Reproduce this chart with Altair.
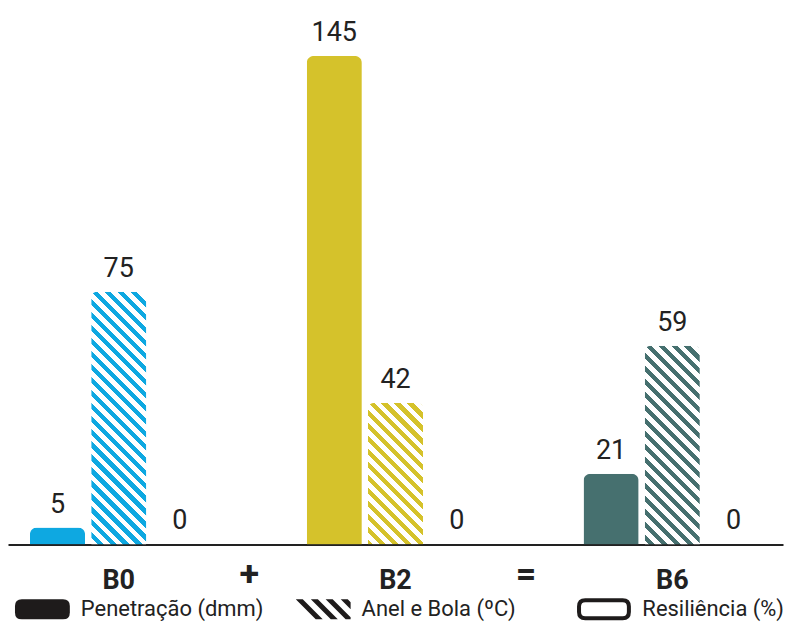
import math
import altair as alt
import pandas as pd

# ---- data ----
groups = ["B0", "B2", "B6"]
series = ["Penetração (dmm)", "Anel e Bola (ºC)", "Resiliência (%)"]
penetracao = [5, 145, 21]
anel_e_bola = [75, 42, 59]
resiliencia = [0, 0, 0]
group_colors = ["#0EA8E1", "#D5C22B", "#46706F"]
operators = ["+", "="]
operator_after = ["B0", "B2"]

# ---- layout ----
W = 777
H = 537
Y_MAX = 159
X_PAD_INNER = 0.3586
X_PAD_OUTER = 0.0793
OFF_PAD_INNER = 0.1
INK = "#222222"

rows = []
for i, g in enumerate(groups):
    for s, vals in zip(series, [penetracao, anel_e_bola, resiliencia]):
        rows.append({"group": g, "series": s, "value": vals[i]})
df = pd.DataFrame(rows)

x_scale = alt.Scale(type="band", domain=groups, paddingInner=X_PAD_INNER, paddingOuter=X_PAD_OUTER)
off_scale = alt.Scale(type="band", domain=series, paddingInner=OFF_PAD_INNER, paddingOuter=0)
y_scale = alt.Scale(domain=[0, Y_MAX], nice=False)
x_axis = alt.Axis(title=None, domainColor=INK, domainWidth=2, ticks=False,
                  labelFontSize=27, labelFontWeight="bold", labelFont="Roboto",
                  labelColor=INK, labelPadding=23, labelAngle=0, grid=False)

X = alt.X("group:N", scale=x_scale, axis=x_axis, title=None)
XO = alt.XOffset("series:N", scale=off_scale)
Y = alt.Y("value:Q", scale=y_scale, axis=None)

# pixel sizes of a bar (used to shape the hatch gradient)
step = W / (len(groups) - X_PAD_INNER + 2 * X_PAD_OUTER)
group_bw = step * (1 - X_PAD_INNER)
bar_w = group_bw / (len(series) - OFF_PAD_INNER) * (1 - OFF_PAD_INNER)
gap_px = step - group_bw


def hatch_gradient(color, w, h, period=13.0, frac=0.48):
    white = "#ffffff"
    span = w + h
    stops = [alt.GradientStop(offset=0, color=white)]
    k = math.floor(-h / period) - 1
    while k * period < w:
        a = k * period
        b = a + frac * period
        ta = min(max((a + h) / span, 0), 1)
        tb = min(max((b + h) / span, 0), 1)
        if tb > ta:
            ta, tb = round(ta, 5), round(tb, 5)
            stops += [alt.GradientStop(offset=ta, color=white),
                      alt.GradientStop(offset=ta, color=color),
                      alt.GradientStop(offset=tb, color=color),
                      alt.GradientStop(offset=tb, color=white)]
        k += 1
    stops.append(alt.GradientStop(offset=1, color=white))
    s = span / (w * w + h * h)
    return alt.LinearGradient(gradient="linear", stops=stops,
                              x1=0, y1=1, x2=round(s * w, 6), y2=round(1 - s * h, 6))


base = alt.Chart(df)

solid = base.transform_filter(
    alt.datum.series != series[1]
).mark_bar(cornerRadiusTopLeft=7, cornerRadiusTopRight=7).encode(
    x=X, xOffset=XO, y=Y,
    color=alt.Color("group:N", scale=alt.Scale(domain=groups, range=group_colors), legend=None),
)

hatched = []
for g, c, v in zip(groups, group_colors, anel_e_bola):
    h_px = v / Y_MAX * H
    hatched.append(
        base.transform_filter(
            (alt.datum.series == series[1]) & (alt.datum.group == g)
        ).mark_bar(cornerRadiusTopLeft=6, cornerRadiusTopRight=6,
                   fill=hatch_gradient(c, bar_w, h_px)).encode(x=X, xOffset=XO, y=Y)
    )

labels = base.mark_text(dy=-15, baseline="alphabetic", fontSize=27, font="Roboto",
                        color=INK).encode(x=X, xOffset=XO, y=Y, text="value:Q")

ops_df = pd.DataFrame({"group": operator_after, "op": operators})
ops = alt.Chart(ops_df).mark_text(fontSize=36, fontWeight="bold", font="Roboto",
                                  baseline="middle", color=INK,
                                  dx=gap_px * 0.42).encode(
    x=alt.X("group:N", scale=x_scale, axis=x_axis, title=None, bandPosition=1),
    y=alt.value(H + 31),
    text="op:N",
)

main = alt.layer(solid, *hatched, labels, ops)

# ---- legend row ----
leg_df = pd.DataFrame({"item": series})
LX = alt.X("item:N", bandPosition=0, axis=None,
           scale=alt.Scale(type="band", domain=series, paddingInner=0.2895, paddingOuter=0.02487))
LEG_Y = H + 65

rounded = ("M-0.75,-0.364 L0.75,-0.364 Q1,-0.364 1,-0.114 L1,0.114 Q1,0.364 0.75,0.364 "
           "L-0.75,0.364 Q-1,0.364 -1,0.114 L-1,-0.114 Q-1,-0.364 -0.75,-0.364 Z")
stripes = ("M-1,-0.364 L-0.745,-0.364 L-0.018,0.364 L-0.273,0.364 Z "
           "M-0.45,-0.364 L-0.195,-0.364 L0.532,0.364 L0.277,0.364 Z "
           "M0.09,-0.364 L0.345,-0.364 L1,0.291 L1,0.364 L0.818,0.364 Z "
           "M0.64,-0.364 L0.895,-0.364 L1,-0.259 L1,-0.004 Z")

leg_base = alt.Chart(leg_df)
sym1 = leg_base.transform_filter(alt.datum.item == series[0]).mark_point(
    shape=rounded, size=55 * 55, filled=True, color="#1e1b1b", opacity=1, xOffset=27.5
).encode(x=LX, y=alt.value(LEG_Y))
sym2 = leg_base.transform_filter(alt.datum.item == series[1]).mark_point(
    shape=stripes, size=55 * 55, filled=True, color="#1e1b1b", opacity=1, xOffset=27.5
).encode(x=LX, y=alt.value(LEG_Y))
sym3 = leg_base.transform_filter(alt.datum.item == series[2]).mark_point(
    shape=rounded, size=50 * 50, filled=False, color="#1e1b1b", strokeWidth=4,
    opacity=1, xOffset=27.5
).encode(x=LX, y=alt.value(LEG_Y))
leg_text = leg_base.mark_text(align="left", baseline="middle", fontSize=22, font="Roboto",
                              color=INK, xOffset=66).encode(
    x=LX, y=alt.value(LEG_Y), text="item:N")

legend = alt.layer(sym1, sym2, sym3, leg_text)

chart = alt.layer(main, legend).resolve_scale(x="independent").properties(
    width=W, height=H, padding=0
).configure_view(stroke=None)

chart.save("out.html", embed_options={"renderer": "svg", "actions": False})
